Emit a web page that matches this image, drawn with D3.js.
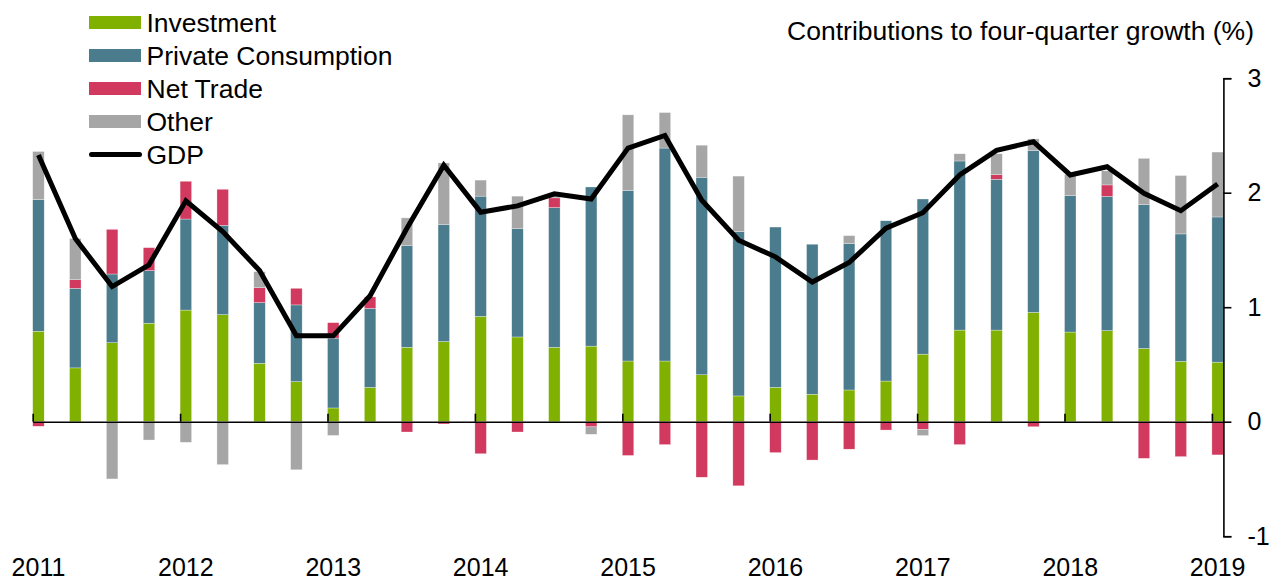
<!DOCTYPE html>
<html>
<head>
<meta charset="utf-8">
<script src="https://cdn.jsdelivr.net/npm/d3@7"></script>
<style>
  body { margin: 0; background: #fff; }
  text { font-family: "Liberation Sans", Arial, sans-serif; fill: #000; }
</style>
</head>
<body>
<div id="chart"></div>
<script>
// quarterly, 2011 Q1 .. 2019 Q1
var quarters = [];
for (var yr = 2011; yr <= 2019; yr++) {
  for (var q = 1; q <= 4; q++) {
    if (yr == 2019 && q > 1) break;
    quarters.push(yr + "Q" + q);
  }
}

var yearLabels = ["2011","2012","2013","2014","2015","2016","2017","2018","2019"];

var investment = [0.79, 0.47, 0.69, 0.86, 0.975, 0.935, 0.51, 0.35, 0.12, 0.30, 0.65,
  0.70, 0.92, 0.74, 0.65, 0.66, 0.53, 0.53, 0.41, 0.225, 0.30, 0.24,
  0.277, 0.355, 0.59, 0.80, 0.80, 0.955, 0.783, 0.795, 0.64, 0.527, 0.52];

var consumption = [1.15, 0.695, 0.60, 0.46, 0.795, 0.78, 0.53, 0.67, 0.61, 0.69, 0.89,
  1.02, 1.05, 0.945, 1.22, 1.39, 1.49, 1.86, 1.725, 1.435, 1.40, 1.31,
  1.278, 1.40, 1.355, 1.477, 1.317, 1.412, 1.191, 1.173, 1.255, 1.113, 1.268];

var netTrade = [-0.04, 0.075, 0.39, 0.20, 0.33, 0.315, 0.13, 0.145, 0.135, 0.10, -0.09,
  -0.02, -0.28, -0.09, 0.085, -0.045, -0.295, -0.20, -0.485, -0.56, -0.27, -0.335,
  -0.24, -0.073, -0.066, -0.20, 0.04, -0.044, 0, 0.10, -0.32, -0.305, -0.29];

var other = [0.42, 0.36, -0.50, -0.16, -0.18, -0.375, 0.14, -0.42, -0.12, 0, 0.24,
  0.54, 0.14, 0.285, 0.03, -0.065, 0.66, 0.31, 0.28, 0.485, 0, 0,
  0.07, 0, -0.055, 0.063, 0.183, 0.103, 0.186, 0.123, 0.405, 0.51, 0.567];

var gdp = [2.33, 1.60, 1.18, 1.37, 1.93, 1.66, 1.32, 0.75, 0.75, 1.10, 1.69,
  2.24, 1.83, 1.885, 1.99, 1.945, 2.39, 2.50, 1.935, 1.585, 1.44, 1.22,
  1.39, 1.69, 1.825, 2.155, 2.37, 2.445, 2.155, 2.227, 1.995, 1.843, 2.076];

var keys = ["Investment", "Private Consumption", "Net Trade", "Other"];
var colors = ["#80b000", "#4b7c8d", "#d13a5e", "#a6a6a6"];

var rows = quarters.map(function(d, i) {
  return {q: d, "Investment": investment[i], "Private Consumption": consumption[i],
          "Net Trade": netTrade[i], "Other": other[i], gdp: gdp[i]};
});

var width = 1277, height = 581;

var svg = d3.select("#chart")
  .append("svg")
    .attr("width", width)
    .attr("height", height);

var x = d3.scaleBand()
  .domain(quarters)
  .range([32.7, 1223.4])
  .paddingInner(0.688)
  .paddingOuter(0);

// same positions as a continuous year scale, for the year ticks
var xYear = d3.scaleLinear()
  .domain([2011, 2011 + (1223.4 - 32.7) / (x.step() * 4)])
  .range([32.7, 1223.4]);

var y = d3.scaleLinear()
  .domain([-1, 3])
  .range([536.2, 78.2]);

var color = d3.scaleOrdinal().domain(keys).range(colors);

var series = d3.stack()
  .keys(keys)
  .offset(d3.stackOffsetDiverging)(rows);

//Bars
svg.append("g")
  .selectAll("g")
  .data(series)
  .enter()
  .append("g")
    .attr("fill", d => color(d.key))
  .selectAll("rect")
  .data(d => d)
  .enter()
  .append("rect")
    .attr("x", d => x(d.data.q))
    .attr("y", d => y(Math.max(d[0], d[1])))
    .attr("width", x.bandwidth())
    .attr("height", d => Math.abs(y(d[0]) - y(d[1])))
    .attr("stroke", "#fff")
    .attr("stroke-width", 0.5)
    .attr("stroke-opacity", 0.6);

// X axis (zero line, ticks pointing up)
var xAxis = svg.append("g")
  .attr("transform", "translate(0," + y(0) + ")")
  .call(d3.axisBottom(xYear)
    .tickValues(yearLabels.map(Number))
    .tickFormat(d3.format("d"))
    .tickSize(-8)
    .tickSizeOuter(0)
    .tickPadding(137));

xAxis.select(".domain").attr("stroke", "#000").attr("stroke-width", 1.6);
xAxis.selectAll(".tick line").attr("stroke", "#000").attr("stroke-width", 1.6);
xAxis.selectAll("text")
  .attr("dx", x.bandwidth() / 2 - 0.5)
  .style("font-size", "25px");

// Y axis on the right
var yAxis = svg.append("g")
  .attr("transform", "translate(1223.4,0)")
  .call(d3.axisRight(y)
    .tickValues([-1, 0, 1, 2, 3])
    .tickFormat(d => String(d))
    .tickSize(8)
    .tickSizeOuter(8)
    .tickPadding(16));

yAxis.select(".domain").attr("stroke", "#000").attr("stroke-width", 1.6);
yAxis.selectAll(".tick line").attr("stroke", "#000").attr("stroke-width", 1.6);
yAxis.selectAll("text").style("font-size", "25px");

// GDP line
var line = d3.line()
  .x(d => x(d.q) + x.bandwidth() / 2)
  .y(d => y(d.gdp));

svg.append("path")
  .datum(rows)
  .attr("fill", "none")
  .attr("stroke", "#000")
  .attr("stroke-width", 5)
  .attr("stroke-linejoin", "miter")
  .attr("d", line);

// title
svg.append("text")
  .attr("x", 1254)
  .attr("y", 39.5)
  .attr("text-anchor", "end")
  .style("font-size", "26.5px")
  .text("Contributions to four-quarter growth (%)");

// legend
var legend = svg.append("g");
var legendItems = keys.concat(["GDP"]);

legendItems.forEach(function(k, i) {
  var cy = 22.5 + i * 33;
  if (k == "GDP") {
    legend.append("line")
      .attr("x1", 91.5).attr("x2", 139.5)
      .attr("y1", cy).attr("y2", cy)
      .attr("stroke", "#000")
      .attr("stroke-width", 5)
      .attr("stroke-linecap", "round");
  } else {
    legend.append("rect")
      .attr("x", 89).attr("y", cy - 6.5)
      .attr("width", 52).attr("height", 13)
      .attr("fill", color(k));
  }
  legend.append("text")
    .attr("x", 146.5)
    .attr("y", cy + 9.3)
    .style("font-size", "26.5px")
    .text(k);
});
</script>
</body>
</html>
